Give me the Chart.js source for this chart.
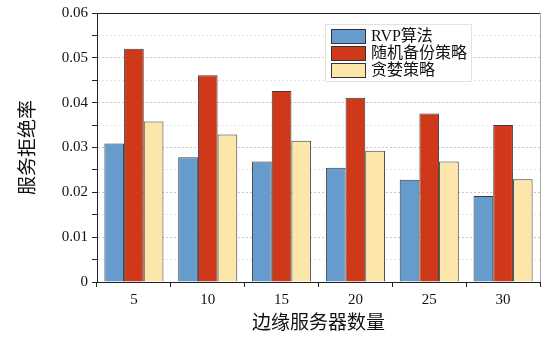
<!DOCTYPE html>
<html lang="zh">
<head>
  <meta charset="UTF-8">
  <title>服务拒绝率</title>
  <script src="https://cdn.jsdelivr.net/npm/chart.js"></script>
  <style>
    html, body { margin: 0; padding: 0; background: #fff; }
    #wrap { width: 548px; height: 345px; }
  </style>
</head>
<body>
  <div id="wrap"><canvas id="barChart"></canvas></div>
  <script>
    // 数据
    const categorias = ['5', '10', '15', '20', '25', '30'];
    const rvp = [0.0309, 0.0278, 0.0269, 0.0255, 0.0228, 0.0192];
    const aleatorio = [0.0520, 0.0461, 0.0426, 0.0411, 0.0376, 0.0350];
    const codicioso = [0.0358, 0.0329, 0.0315, 0.0293, 0.0269, 0.0229];
    const nombres = ['RVP算法', '随机备份策略', '贪婪策略'];
    const colores = ['#659bcd', '#cf3818', '#fde6aa'];

    const fuente = "'Liberation Serif', 'Noto Sans CJK SC', serif";
    const esMayor = v => Math.round(v * 1000) % 10 === 0;

    // marco superior / derecho y leyenda dentro del área
    const marcoLeyenda = {
      id: 'marcoLeyenda',
      afterDraw(chart) {
        const { ctx, chartArea: a } = chart;
        ctx.save();
        ctx.lineWidth = 1;
        ctx.strokeStyle = '#222';
        ctx.beginPath();
        ctx.moveTo(a.left, a.top + 0.5);
        ctx.lineTo(a.right, a.top + 0.5);
        ctx.stroke();
        ctx.strokeStyle = '#aaa';
        ctx.beginPath();
        ctx.moveTo(a.right + 0.5, a.top);
        ctx.lineTo(a.right + 0.5, a.bottom);
        ctx.stroke();

        // leyenda
        const x0 = 325, y0 = 24, w = 146, h = 57;
        ctx.fillStyle = '#fff';
        ctx.fillRect(x0, y0, w, h);
        ctx.strokeStyle = '#e2e2e2';
        ctx.strokeRect(x0 + 0.5, y0 + 0.5, w, h);
        ctx.font = '16px ' + fuente;
        ctx.textBaseline = 'middle';
        chart.data.datasets.forEach((ds, i) => {
          const cy = 36 + i * 17;
          ctx.fillStyle = ds.backgroundColor;
          ctx.fillRect(331, cy - 7, 34, 14);
          ctx.strokeStyle = '#333';
          ctx.strokeRect(331.5, cy - 6.5, 34, 14);
          ctx.fillStyle = '#111';
          ctx.fillText(ds.label, 371, cy + 1);
        });
        ctx.restore();
      }
    };

    const ctx = document.getElementById('barChart').getContext('2d');
    const barChart = new Chart(ctx, {
      type: 'bar',
      data: {
        labels: categorias,
        datasets: [rvp, aleatorio, codicioso].map((serie, i) => ({
          label: nombres[i],
          data: serie,
          backgroundColor: colores[i],
          borderColor: '#3a3a3a',
          borderWidth: 1,
          borderSkipped: 'bottom',
          categoryPercentage: 0.8,
          barPercentage: 1.0
        }))
      },
      options: {
        responsive: true,
        maintainAspectRatio: false,
        animation: false,
        layout: { padding: { top: 8, right: 8, left: 0, bottom: 0 } },
        plugins: {
          legend: { display: false },
          tooltip: { enabled: false }
        },
        scales: {
          x: {
            afterFit: s => { s.height = 63; },
            grid: {
              offset: true,
              drawOnChartArea: false,
              tickLength: 5,
              tickColor: '#222'
            },
            border: { color: '#222', width: 1 },
            ticks: {
              color: '#111',
              padding: 4,
              font: { family: fuente, size: 15 }
            },
            title: {
              display: true,
              text: '边缘服务器数量',
              color: '#111',
              padding: { top: 0, bottom: 10 },
              font: { family: fuente, size: 19 }
            }
          },
          y: {
            min: 0,
            max: 0.06,
            afterFit: s => { s.width = 97; },
            ticks: {
              stepSize: 0.005,
              color: '#111',
              padding: 4,
              autoSkip: false,
              font: { family: fuente, size: 15 },
              callback: v => esMayor(v) ? (v === 0 ? '0' : v.toFixed(2)) : ''
            },
            grid: {
              color: c => c.tick && c.tick.value === 0 ? 'rgba(0,0,0,0)' : (esMayor(c.tick.value) ? '#c8c8c8' : '#e4e4e4'),
              tickColor: '#222',
              tickLength: 5,
              lineWidth: 1
            },
            border: { color: '#222', width: 1, dash: [2, 2] },
            title: {
              display: true,
              text: '服务拒绝率',
              color: '#111',
              padding: { top: 18, bottom: 0 },
              font: { family: fuente, size: 19 }
            }
          }
        }
      },
      plugins: [marcoLeyenda]
    });
  </script>
</body>
</html>
